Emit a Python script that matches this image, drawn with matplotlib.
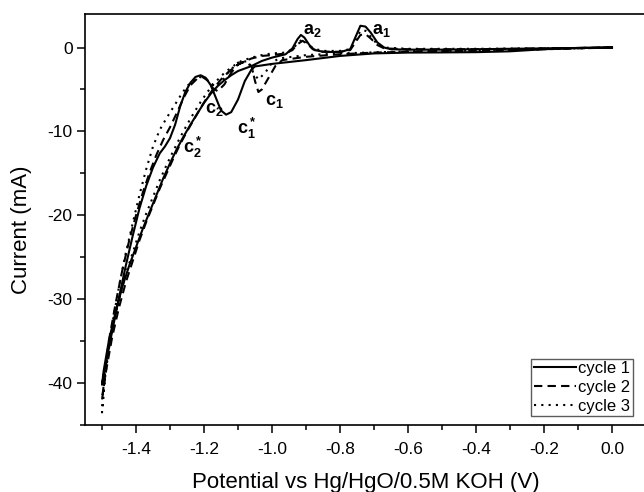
import matplotlib
import matplotlib.pyplot as plt
from matplotlib.ticker import MultipleLocator

matplotlib.use('agg')

plt.rcParams['font.family'] = ['Liberation Sans', 'DejaVu Sans']
plt.rcParams['mathtext.fontset'] = 'custom'
plt.rcParams['mathtext.rm'] = 'Liberation Sans:bold'
plt.rcParams['mathtext.bf'] = 'Liberation Sans:bold'
plt.rcParams['mathtext.default'] = 'bf'

# cycle 1: cathodic sweep 0 -> -1.5 V, then back to 0 V
c1_v = [0.0, -0.1, -0.2, -0.3, -0.4, -0.5, -0.6, -0.7, -0.8, -0.9, -1.0, -1.05,
        -1.06, -1.08, -1.10, -1.12, -1.135, -1.15, -1.165, -1.18, -1.195, -1.21,
        -1.225, -1.24, -1.255, -1.27, -1.285, -1.30, -1.315, -1.33, -1.35, -1.37,
        -1.39, -1.41, -1.43, -1.45, -1.47, -1.49, -1.5,
        -1.495, -1.48, -1.46, -1.44, -1.42, -1.40, -1.38, -1.36, -1.34, -1.32,
        -1.30, -1.28, -1.26, -1.24, -1.22, -1.20, -1.18, -1.16, -1.14, -1.12,
        -1.10, -1.08, -1.06, -1.03, -1.0, -0.96,
        -0.94, -0.925, -0.915, -0.905, -0.89, -0.875, -0.85, -0.80, -0.77, -0.755,
        -0.74, -0.725, -0.71, -0.69, -0.67, -0.65, -0.6, -0.5, -0.4, -0.3, -0.2,
        -0.1, 0.0]
c1_i = [0.0, -0.05, -0.2, -0.45, -0.55, -0.58, -0.6, -0.7, -1.0, -1.5, -1.95, -2.25,
        -2.6, -4.0, -6.2, -7.7, -8.0, -7.5, -6.0, -4.5, -3.6, -3.3,
        -3.5, -4.2, -5.3, -7.0, -9.2, -10.8, -11.8, -12.6, -14.3, -16.5,
        -19.2, -22.5, -26.0, -29.8, -33.8, -38.0, -40.2,
        -38.5, -35.0, -31.5, -28.5, -26.0, -23.8, -21.6, -19.6, -17.6, -15.6,
        -13.8, -12.1, -10.6, -9.2, -7.9, -6.6, -5.5, -4.6, -3.9, -3.3,
        -2.8, -2.5, -2.2, -1.6, -1.2, -0.8,
        -0.1, 1.0, 1.5, 1.2, 0.3, -0.3, -0.5, -0.55, -0.2, 1.2,
        2.6, 2.5, 1.8, 0.6, 0.0, -0.2, -0.25, -0.25, -0.2, -0.15, -0.1,
        -0.05, 0.0]

# cycle 2
c2_v = [0.0, -0.2, -0.4, -0.6, -0.7, -0.8, -0.9, -0.97, -0.99, -1.01, -1.03, -1.04,
        -1.05, -1.06, -1.08, -1.10, -1.12, -1.14, -1.16, -1.175, -1.19, -1.205,
        -1.22, -1.24, -1.26, -1.28, -1.30, -1.32, -1.34, -1.36, -1.38, -1.40,
        -1.42, -1.44, -1.46, -1.48, -1.5,
        -1.49, -1.47, -1.45, -1.43, -1.41, -1.39, -1.37, -1.35, -1.33, -1.31,
        -1.29, -1.27, -1.25, -1.23, -1.21, -1.19, -1.17, -1.15, -1.13, -1.11,
        -1.09, -1.06, -1.03, -1.0, -0.96,
        -0.94, -0.925, -0.91, -0.895, -0.88, -0.85, -0.8, -0.77, -0.755, -0.74,
        -0.725, -0.71, -0.69, -0.67, -0.6, -0.4, -0.2, 0.0]
c2_i = [0.0, -0.2, -0.4, -0.5, -0.6, -0.8, -1.1, -1.5, -2.2, -3.6, -5.0, -5.3,
        -4.0, -2.2, -1.7, -2.0, -3.0, -4.4, -5.2, -4.8, -3.9, -3.5,
        -3.7, -4.5, -6.0, -7.8, -9.5, -11.0, -12.8, -14.9, -17.3, -20.0,
        -23.0, -26.5, -30.5, -35.0, -42.0,
        -39.0, -34.5, -31.0, -28.0, -25.5, -23.0, -20.8, -18.8, -16.8, -15.0,
        -13.2, -11.5, -10.0, -8.6, -7.2, -5.9, -4.8, -3.8, -3.0, -2.3,
        -1.8, -1.3, -1.0, -0.9, -0.7,
        -0.3, 0.4, 0.8, 0.4, -0.2, -0.5, -0.5, -0.3, 0.6, 1.5,
        1.6, 1.1, 0.3, -0.1, -0.2, -0.2, -0.1, 0.0]

# cycle 3
c3_v = [0.0, -0.2, -0.4, -0.6, -0.8, -0.9, -0.98, -1.0, -1.02, -1.04, -1.055,
        -1.07, -1.10, -1.13, -1.15, -1.17, -1.185, -1.20, -1.215, -1.23, -1.25,
        -1.27, -1.29, -1.31, -1.33, -1.35, -1.37, -1.39, -1.41, -1.43, -1.45,
        -1.47, -1.49, -1.5,
        -1.49, -1.47, -1.45, -1.43, -1.41, -1.39, -1.37, -1.35, -1.33, -1.31,
        -1.29, -1.27, -1.25, -1.23, -1.21, -1.19, -1.17, -1.15, -1.13, -1.11,
        -1.09, -1.06, -1.03, -1.0, -0.96, -0.94,
        -0.925, -0.91, -0.895, -0.88, -0.85, -0.8, -0.77, -0.755, -0.74, -0.725,
        -0.71, -0.69, -0.67, -0.6, -0.4, -0.2, 0.0]
c3_i = [0.0, -0.2, -0.35, -0.45, -0.7, -0.9, -1.3, -1.8, -3.0, -3.8, -3.0,
        -1.6, -1.8, -3.0, -4.2, -4.6, -4.0, -3.6, -3.5, -3.9, -4.6,
        -5.8, -7.1, -8.4, -9.8, -11.8, -14.5, -17.6, -21.0, -24.5, -28.5,
        -33.0, -39.0, -43.5,
        -38.0, -33.5, -30.0, -27.0, -24.5, -22.0, -19.8, -17.8, -15.8, -14.0,
        -12.3, -10.7, -9.2, -7.8, -6.5, -5.3, -4.3, -3.4, -2.7, -2.1,
        -1.6, -1.2, -0.9, -0.7, -0.6, -0.2,
        0.5, 1.0, 0.5, -0.1, -0.4, -0.4, -0.2, 0.8, 2.0, 2.0,
        1.3, 0.4, 0.0, -0.15, -0.15, -0.1, 0.0]

peak_labels = [r'$a_1$', r'$a_2$', r'$c_1$', r'$c_2$', r'$c_1^*$', r'$c_2^*$']
peak_pos = [(-0.705, 1.6), (-0.91, 1.6), (-1.022, -6.9), (-1.198, -7.8),
            (-1.104, -10.3), (-1.263, -12.6)]

fig = plt.figure(figsize=(6.44, 4.92), dpi=100)
ax = fig.add_axes([85 / 644, 1 - 425 / 492, 561 / 644, 411 / 492])

ax.plot(c1_v, c1_i, color='black', lw=1.5, ls='-', label='cycle 1')
ax.plot(c2_v, c2_i, color='black', lw=1.5, ls=(0, (4, 2.5)), label='cycle 2')
ax.plot(c3_v, c3_i, color='black', lw=1.5, ls=(0, (1, 2.5)), label='cycle 3')

for txt, (x, y) in zip(peak_labels, peak_pos):
    ax.text(x, y, txt, fontsize=13, color='black')

ax.set_xlim(-1.55, 0.1)
ax.set_ylim(-45, 4)
ax.xaxis.set_minor_locator(MultipleLocator(0.1))
ax.yaxis.set_minor_locator(MultipleLocator(5))
ax.set_xticks([-1.4, -1.2, -1.0, -0.8, -0.6, -0.4, -0.2, 0.0])
ax.set_xticklabels(['-1.4', '-1.2', '-1.0', '-0.8', '-0.6', '-0.4', '-0.2', '0.0'])
ax.set_yticks([0, -10, -20, -30, -40])
ax.set_yticklabels(['0', '-10', '-20', '-30', '-40'])
ax.tick_params(which='major', direction='out', length=6, width=1.1, labelsize=12.5)
ax.tick_params(axis='x', which='major', pad=6)
ax.tick_params(axis='y', which='major', pad=3)
ax.tick_params(which='minor', direction='out', length=3.5, width=1.1)
for s in ax.spines.values():
    s.set_linewidth(1.2)

ax.set_xlabel('Potential vs Hg/HgO/0.5M KOH (V)', fontsize=16)
ax.set_ylabel('Current (mA)', fontsize=16)
ax.xaxis.set_label_coords(0.5, -0.115)
ax.yaxis.set_label_coords(-0.095, 0.474)

leg = ax.legend(loc='lower right', bbox_to_anchor=(632.7 / 644, 1 - 416 / 492),
                bbox_transform=fig.transFigure, borderaxespad=0, fontsize=12,
                fancybox=False, frameon=True, handlelength=2.5, handletextpad=0.15,
                labelspacing=0.22, borderpad=0.15)
leg.get_frame().set_edgecolor('#333333')
leg.get_frame().set_linewidth(1.0)

fig.savefig('out.png', dpi=100)
